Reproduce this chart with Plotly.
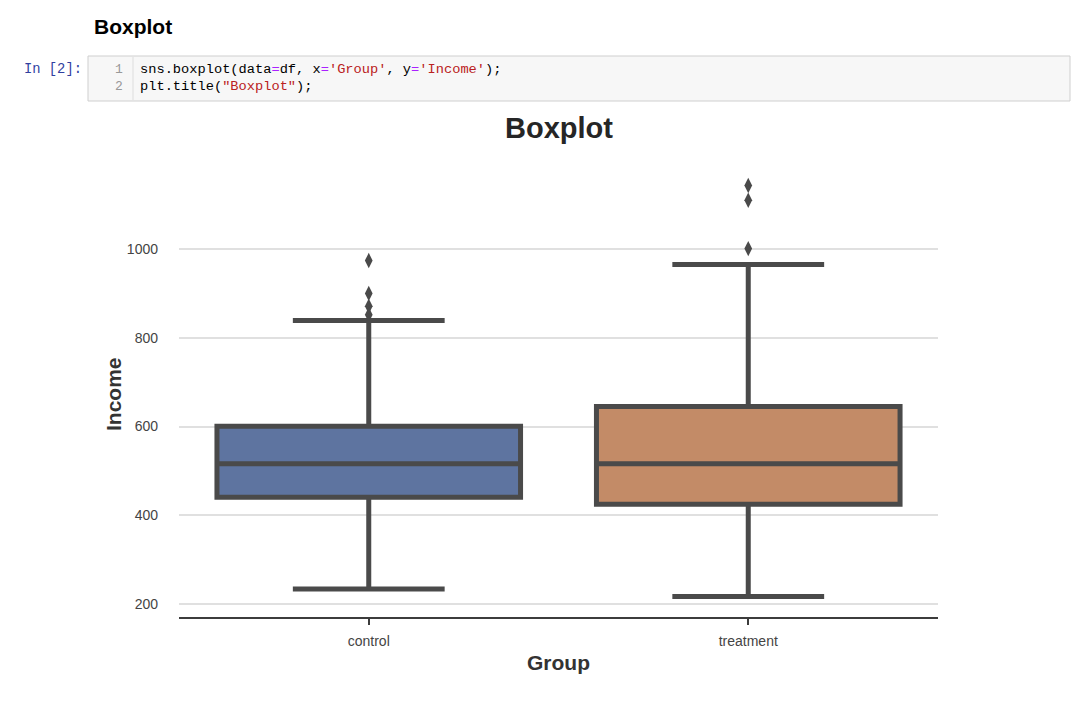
import plotly.graph_objects as go

# ---- data ----
groups = ["control", "treatment"]
q1 = [441, 425]
median = [516, 516]
q3 = [601, 645]
lower_whisker = [234, 217]
upper_whisker = [839, 965]
outliers_control = [974, 900, 871, 852]
outliers_treatment = [1143, 1110, 1001]
fill_colors = ["#5e74a0", "#c38b67"]
y_ticks = [200, 400, 600, 800, 1000]

EDGE = "#4a4a4a"
OFF = 8  # page body margin
W, H = 1072, 696
# plot area in screen pixels: x 179..938, y 165..617
L, T = 179 - OFF, 165 - OFF
R = W - (938 - OFF)
B = H - (617 - OFF)
PW, PH = W - L - R, H - T - B


def px(x):
    return (x - OFF - L) / PW


def py(y):
    return (H - B - (y - OFF)) / PH


fig = go.Figure()
for i, g in enumerate(groups):
    fig.add_trace(go.Box(
        x=[g], q1=[q1[i]], median=[median[i]], q3=[q3[i]],
        lowerfence=[lower_whisker[i]], upperfence=[upper_whisker[i]],
        fillcolor=fill_colors[i], line=dict(color=EDGE, width=5),
        width=0.8, whiskerwidth=0.5, boxpoints=False, showlegend=False, hoverinfo="skip",
    ))

for g, vals in zip(groups, [outliers_control, outliers_treatment]):
    fig.add_trace(go.Scatter(
        x=[g] * len(vals), y=vals, mode="markers",
        marker=dict(symbol="diamond-tall", size=11, color=EDGE,
                    line=dict(width=0)),
        showlegend=False, hoverinfo="skip",
    ))

FONT = "Liberation Sans, Arial, Helvetica, sans-serif"
MONO = "Liberation Mono, DejaVu Sans Mono, monospace"

fig.update_layout(
    width=W, height=H,
    margin=dict(l=L, r=R, t=T, b=B, pad=0),
    paper_bgcolor="white", plot_bgcolor="white",
    font=dict(family=FONT, color="#444444"),
    xaxis=dict(
        type="category", categoryorder="array", categoryarray=groups,
        range=[-0.5, 1.5], showgrid=False, zeroline=False,
        showline=True, linecolor="#3c3c3c", linewidth=1.5,
        ticks="outside", ticklen=6, tickwidth=1.5, tickcolor="#3c3c3c",
        tickfont=dict(size=14, color="#444444", family=FONT),
        ticklabelstandoff=4,
    ),
    yaxis=dict(
        range=[171, 1189.3], tickvals=y_ticks,
        showgrid=True, gridcolor="#e0e0e0", gridwidth=1.5,
        zeroline=False, showline=False, ticks="",
        tickfont=dict(size=14, color="#444444", family=FONT),
        ticklabelstandoff=20,
    ),
)

ann = []
# chart title and axis labels
ann.append(dict(text="<b>Boxplot</b>", x=px(558.5), y=py(128), xanchor="center", yanchor="middle",
                font=dict(size=29, color="#262626", family=FONT)))
ann.append(dict(text="<b>Group</b>", x=px(558.5), y=py(662), xanchor="center", yanchor="middle",
                font=dict(size=21, color="#333333", family=FONT)))
ann.append(dict(text="<b>Income</b>", x=px(113), y=py(394), xanchor="center", yanchor="middle",
                textangle=-90, font=dict(size=21, color="#333333", family=FONT)))

# notebook header
ann.append(dict(text="<b>Boxplot</b>", x=px(92), y=py(26), xanchor="left", yanchor="middle",
                font=dict(size=21, color="#000000", family=FONT)))
ann.append(dict(text="In [2]:", x=px(84), y=py(70), xanchor="right", yanchor="middle",
                font=dict(size=13.8, color="#303F9F", family=MONO)))
ann.append(dict(text="1", x=px(125), y=py(70), xanchor="right", yanchor="middle",
                font=dict(size=13, color="#999999", family=MONO)))
ann.append(dict(text="2", x=px(125), y=py(86), xanchor="right", yanchor="middle",
                font=dict(size=13, color="#999999", family=MONO)))
S = '<span style="color:#BA2121">'
E = '<span style="color:#AA22FF">'
line1 = ("sns.boxplot(data" + E + "=</span>df, x" + E + "=</span>" + S + "'Group'</span>, y"
         + E + "=</span>" + S + "'Income'</span>);")
line2 = "plt.title(" + S + "\"Boxplot\"</span>);"
ann.append(dict(text=line1, x=px(138), y=py(70), xanchor="left", yanchor="middle",
                font=dict(size=13.7, color="#000000", family=MONO)))
ann.append(dict(text=line2, x=px(138), y=py(86), xanchor="left", yanchor="middle",
                font=dict(size=13.7, color="#000000", family=MONO)))

for a in ann:
    a.update(xref="paper", yref="paper", showarrow=False)
fig.update_layout(annotations=ann)

fig.update_layout(shapes=[
    dict(type="rect", xref="paper", yref="paper", x0=px(88), x1=px(1070), y0=py(101), y1=py(56),
         fillcolor="#f7f7f7", line=dict(color="#cfcfcf", width=1), layer="below"),
    dict(type="line", xref="paper", yref="paper", x0=px(133), x1=px(133), y0=py(100), y1=py(57),
         line=dict(color="#dddddd", width=1), layer="below"),
])

fig.write_html("out.html")
